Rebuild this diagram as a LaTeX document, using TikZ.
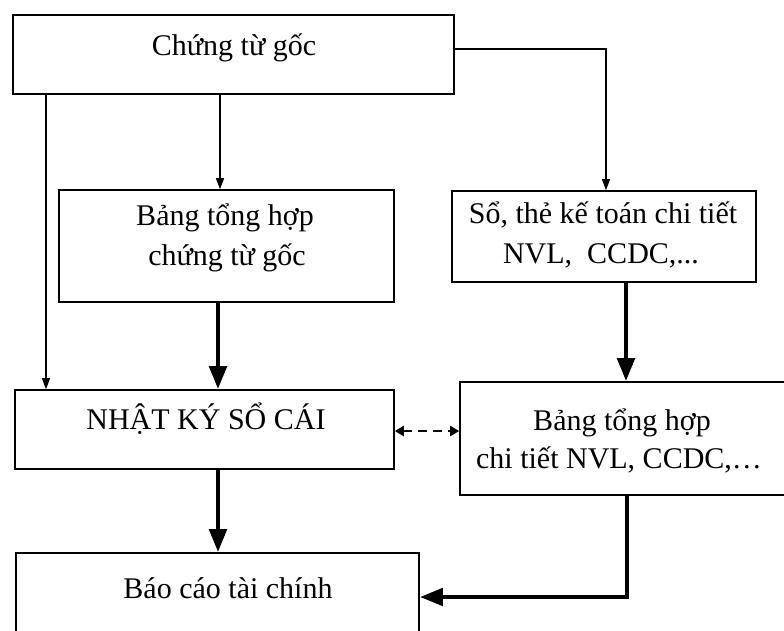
\documentclass[tikz,border=0pt]{standalone}
\usepackage{fontspec}
\setmainfont{Liberation Serif}
\usetikzlibrary{arrows.meta}
\tikzset{
  box/.style={draw=black, line width=1.6pt, rectangle, inner sep=0pt, fill=white},
  lbl/.style={anchor=base, inner sep=0pt, font=\fontsize{30}{36}\selectfont},
  thinarrow/.style={line width=1.3pt, -{Triangle[length=11pt,width=8pt]}},
  thickarrow/.style={line width=4.8pt, -{Triangle[length=23pt,width=17pt]}},
  dasharrow/.style={line width=2.2pt, dash pattern=on 9pt off 6pt, {Triangle[length=9pt,width=10pt]}-{Triangle[length=9pt,width=10pt]}}
}
\begin{document}
\begin{tikzpicture}[x=1pt,y=-1pt]
\path[use as bounding box] (0,0) rectangle (784,630);
\clip (0,0) rectangle (784,630);
\fill[white] (0,0) rectangle (784,630);
% boxes
\node[box, minimum width=441pt, minimum height=79pt] (b1) at (233.5,54.5) {};
\node[box, minimum width=335pt, minimum height=112pt] (b2) at (226.5,246) {};
\node[box, minimum width=304pt, minimum height=91pt] (b3) at (604,236.5) {};
\node[box, minimum width=379pt, minimum height=79pt] (b4) at (204.5,429.5) {};
\node[box, minimum width=360pt, minimum height=113pt] (b5) at (640,438.5) {};
\node[box, minimum width=403pt, minimum height=100pt] (b6) at (217.5,603) {};
% texts
\node[lbl] (t1) at (234,55) {Chứng từ gốc};
\node[lbl] (t2a) at (225,225) {Bảng tổng hợp};
\node[lbl] (t2b) at (227,265) {chứng từ gốc};
\node[lbl] (t3a) at (603,223) {Sổ, thẻ kế toán chi tiết};
\node[lbl] (t3b) at (601,263) {NVL,\ \ CCDC,...};
\node[lbl] (t4) at (206,429) {NHẬT KÝ SỔ CÁI};
\node[lbl] (t5a) at (622,430) {Bảng tổng hợp};
\node[lbl] (t5b) at (619,468) {chi tiết NVL, CCDC,…};
\node[lbl] (t6) at (228,598) {Báo cáo tài chính};
% connectors
\draw[thinarrow] (b1.south -| 46,0) -- (b4.north -| 46,0);
\draw[thinarrow] (b1.south -| 220,0) -- (b2.north -| 220,0);
\draw[thinarrow] (b1.east |- 0,49) -| (b3.north -| 606,0);
\draw[thickarrow] (b2.south -| 218,0) -- (b4.north -| 218,0);
\draw[thickarrow] (b3.south -| 626,0) -- (b5.north -| 626,0);
\draw[dasharrow] (b4.east |- 0,431) -- (b5.west |- 0,431);
\draw[thickarrow] (b4.south -| 218,0) -- (b6.north -| 218,0);
\draw[thickarrow] (b5.south -| 627,0) |- (b6.east |- 0,597);
\end{tikzpicture}
\end{document}
